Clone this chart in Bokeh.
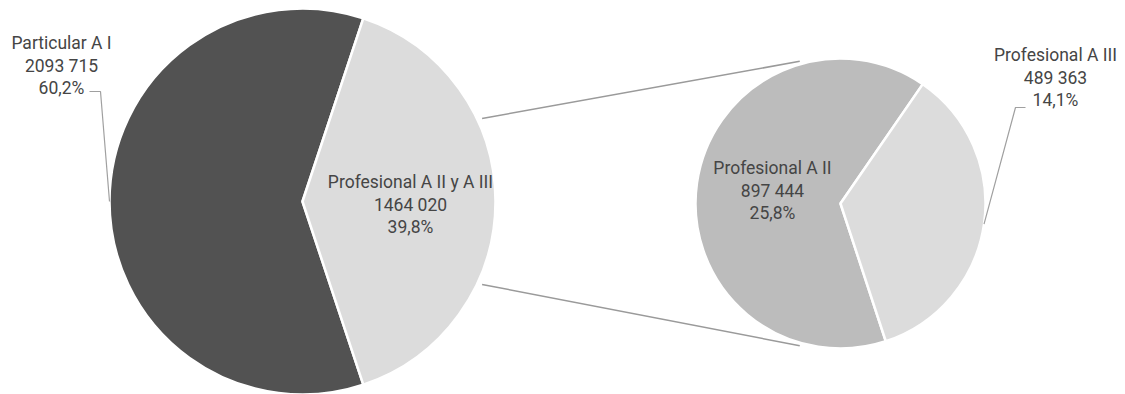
import math
from bokeh.plotting import figure
from bokeh.models import Range1d, ColumnDataSource
from bokeh.core.properties import value
from bokeh.embed import file_html
from bokeh.resources import INLINE

# ---- data ----
outer_names = ["Particular A I", "Profesional A II y A III"]
outer_values = [2093715, 1464020]
outer_pcts = [60.2, 39.8]
inner_names = ["Profesional A II", "Profesional A III"]
inner_values = [897444, 489363]
inner_pcts = [25.8, 14.1]

# ---- styles / layout ----
W, H = 1125, 394
outer_colors = ["#525252", "#dcdcdc"]
inner_colors = ["#bcbcbc", "#dcdcdc"]
TXT = "#454545"
FONT = value("Roboto")
FS = "17.5px"
LINE_GAP = 22.5

L_C = (302, 193); L_R = 193
R_C = (840, 191); R_R = 145
inner_start = -71.8  # degrees, start of A III slice

def fmt_int(v):
    s = str(v)
    return s[:-3] + " " + s[-3:] if len(s) > 3 else s

def fmt_pct(v):
    return f"{v:.1f}".replace(".", ",") + "%"

p = figure(width=W, height=H, x_range=Range1d(0, W), y_range=Range1d(0, H),
           output_backend="svg", toolbar_location=None, min_border=0)
p.axis.visible = False
p.grid.visible = False
p.outline_line_color = None
p.background_fill_color = "white"

# outer pie: light slice centred on 0 deg
half = outer_pcts[1] / 100 * 180
outer_start = [math.radians(half), math.radians(-half)]
outer_end = [math.radians(360 - half), math.radians(half)]
p.wedge(x=L_C[0], y=L_C[1], radius=L_R,
        start_angle=outer_start, end_angle=outer_end,
        fill_color=outer_colors, line_color="white", line_width=2.5)

# inner pie
frac3 = inner_pcts[1] / (inner_pcts[0] + inner_pcts[1])
a3_end = inner_start + frac3 * 360
inner_start_a = [math.radians(a3_end), math.radians(inner_start)]
inner_end_a = [math.radians(inner_start + 360), math.radians(a3_end)]
p.wedge(x=R_C[0], y=R_C[1], radius=R_R,
        start_angle=inner_start_a, end_angle=inner_end_a,
        fill_color=inner_colors, line_color="white", line_width=2.5)

# connector lines
for s in (1, -1):
    a1 = math.radians(24.8 * s)
    a2 = math.radians(106 * s)
    x1 = L_C[0] + L_R * 1.025 * math.cos(a1)
    y1 = L_C[1] + L_R * 1.025 * math.sin(a1)
    x2 = R_C[0] + R_R * 1.02 * math.cos(a2)
    y2 = R_C[1] + R_R * 1.02 * math.sin(a2)
    p.line([x1, x2], [y1, y2], line_color="#9a9a9a", line_width=1.5)

# leader lines
ex = L_C[0] - L_R
ey = L_C[1]
p.line([89, 100, ex], [303, 303, ey], line_color="#a0a0a0", line_width=1.2)
mid3 = math.radians((inner_start + a3_end) / 2)
ex3 = R_C[0] + R_R * math.cos(mid3)
ey3 = R_C[1] + R_R * math.sin(mid3)
p.line([1025, 1015, ex3], [287, 287, ey3], line_color="#a0a0a0", line_width=1.2)

# labels
label_pos = [(61, 329), (410, 190), (772, 204), (1055, 317)]
names = outer_names + inner_names
vals = outer_values + inner_values
pcts = outer_pcts + inner_pcts
xs, ys, ts = [], [], []
for (cx, cy), n, v, pc in zip(label_pos, names, vals, pcts):
    for k, t in enumerate([n, fmt_int(v), fmt_pct(pc)]):
        xs.append(cx)
        ys.append(cy + LINE_GAP * (1 - k))
        ts.append(t)
src = ColumnDataSource(dict(x=xs, y=ys, t=ts))
p.text(x="x", y="y", text="t", source=src, text_font=FONT, text_font_size=FS,
       text_color=TXT, text_align="center", text_baseline="middle")

open("out.html", "w").write(file_html(p, INLINE))
